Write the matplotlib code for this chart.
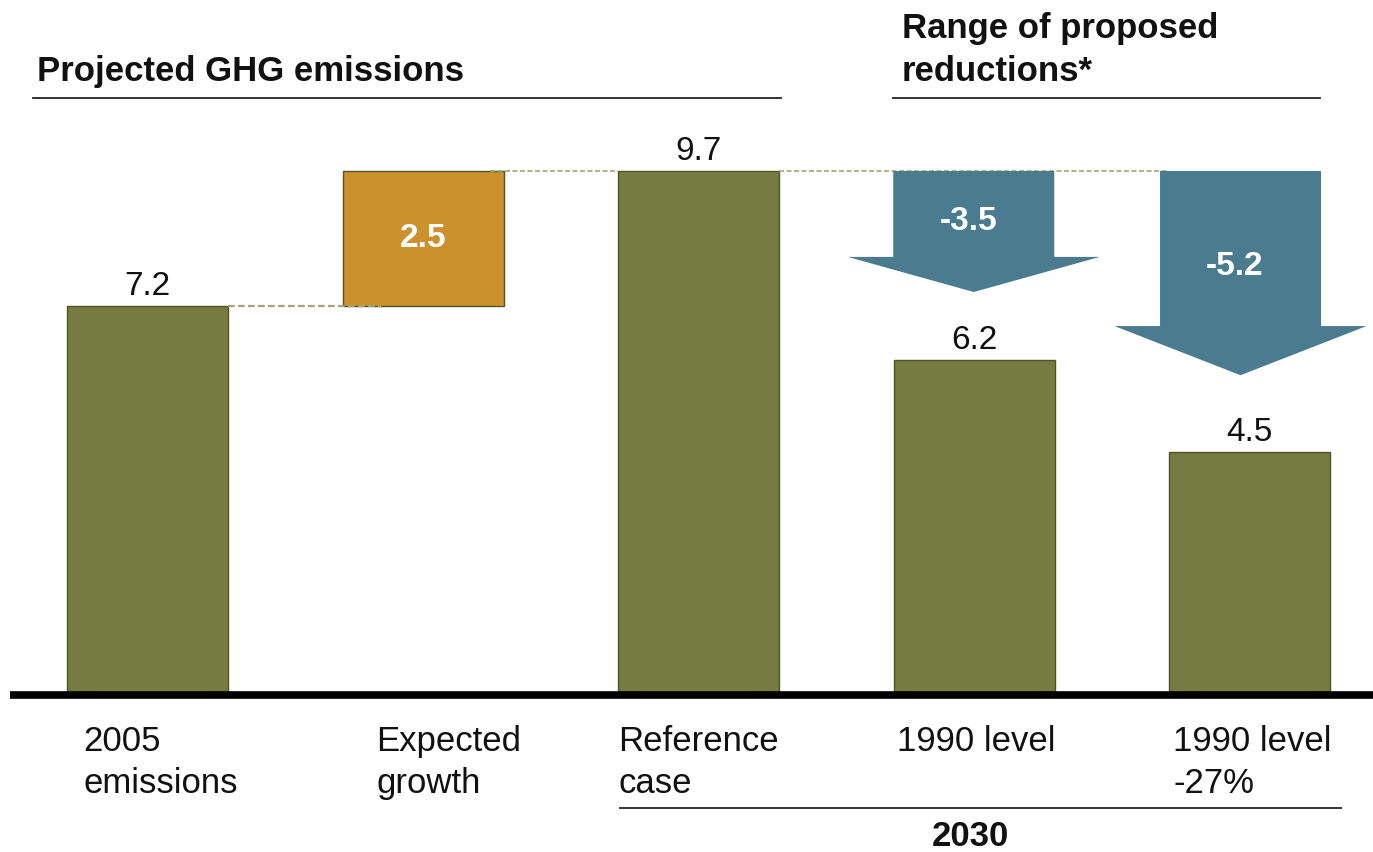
#!/usr/bin/env python3

import matplotlib
matplotlib.use("Agg")
import matplotlib.pyplot as plt
from matplotlib.patches import Polygon

plt.rcParams["font.family"] = ["Liberation Sans", "DejaVu Sans"]

# ------------------------------------------------------------------------
# Data:
# ------------------------------------------------------------------------

categories = ["2005\nemissions", "Expected\ngrowth", "Reference\ncase",
              "1990 level", "1990 level\n-27%"]
start_value = 7.2
growth = 2.5
reference = 9.7
reductions = [-3.5, -5.2]
targets = [6.2, 4.5]

OLIVE = "#767b41"
OLIVE_EDGE = "#4f5524"
ORANGE = "#cc912c"
TEAL = "#4a7b8f"
DASH = "#a3a27a"

# ------------------------------------------------------------------------
# Plot:
# ------------------------------------------------------------------------

W, H = 1373, 852
fig = plt.figure(figsize=(W / 100, H / 100), dpi=100, facecolor="w")
ax = fig.add_axes([0, 0, 1, 1])

# axis scale: 54 px per unit, baseline at 695 px, bar pitch 275.6 px
ppu = 54.02
pitch = 275.6
ax.set_ylim(-(H - 695) / ppu, 695 / ppu)
ax.set_xlim(-147.5 / pitch, (W - 147.5) / pitch)
ax.axis("off")

xs = list(range(len(categories)))
bw = 161 / pitch

ax.bar([xs[0], xs[2], xs[3], xs[4]],
       [start_value, reference] + targets,
       width=bw, color=OLIVE, edgecolor=OLIVE_EDGE, linewidth=1)
ax.bar(xs[1], growth, bottom=start_value, width=bw,
       color=ORANGE, edgecolor=OLIVE_EDGE, linewidth=1)

# value labels
for x, v in zip([xs[0], xs[2], xs[3], xs[4]], [start_value, reference] + targets):
  ax.annotate(f"{v:.1f}", (x, v), xytext=(0, 3), textcoords="offset points",
              ha="center", va="bottom", fontsize=24, color="#111111")
ax.text(xs[1], start_value + growth / 2, f"{growth:.1f}", ha="center",
        va="center", fontsize=24, fontweight="bold", color="white")

# dashed connectors
ax.plot([xs[0] + bw / 2, xs[1] - bw / 2 + 0.14], [start_value] * 2,
        ls=(0, (3, 1.5)), color=DASH, lw=1.6, zorder=1)
ax.plot([xs[1] + bw / 2 - 0.05, xs[2] - bw / 2], [reference] * 2,
        ls=(0, (3, 1.5)), color=DASH, lw=1.2, zorder=1)
ax.plot([xs[2] + bw / 2, xs[4] - bw / 2], [reference] * 2,
        ls=(0, (3, 1.5)), color=DASH, lw=1.2, zorder=1)

# reduction arrows (drawn shorter than scale, as in the original)
arrow_frac = [0.64, 0.727]
head_len = [0.65, 0.91]
arrow_dx = [-0.002, -0.034]
label_pos = [0.42, 0.47]
half_shaft = bw / 2
half_head = 126 / pitch
for i, r in enumerate(reductions):
  cx = xs[3 + i] + arrow_dx[i]
  tip = reference + r * arrow_frac[i]
  neck = tip + head_len[i]
  pts = [(cx - half_shaft, reference), (cx + half_shaft, reference),
         (cx + half_shaft, neck), (cx + half_head, neck), (cx, tip),
         (cx - half_head, neck), (cx - half_shaft, neck)]
  ax.add_patch(Polygon(pts, closed=True, facecolor=TEAL, edgecolor="none",
                       zorder=3))
  ax.text(cx - 0.02, reference - (reference - tip) * label_pos[i], f"{r:.1f}",
          ha="center", va="center", fontsize=24, fontweight="bold",
          color="white", zorder=4)

# baseline
ax.plot([(10 - 147.5) / pitch, ax.get_xlim()[1]], [0, 0],
        color="black", lw=5.5, solid_capstyle="butt", zorder=5)

# category labels
label_dx = [16, 34, 0, 3, 4]
for x, lab, dx in zip(xs, categories, label_dx):
  ax.text(x - bw / 2 + dx / pitch, -30 / ppu, lab, ha="left", va="top",
          fontsize=25, color="#111111", linespacing=1.33)

# headers
def fx(px):
  return px / W

def fy(py):
  return 1 - py / H

fig.text(fx(37), fy(72), "Projected GHG emissions", ha="left", va="center",
         fontsize=25, fontweight="bold", color="#111111")
fig.text(fx(902), fy(50), "Range of proposed\nreductions*", ha="left",
         va="center", fontsize=25, fontweight="bold", color="#111111",
         linespacing=1.4)
fig.add_artist(plt.Line2D([fx(33), fx(781)], [fy(98), fy(98)],
                          color="#222222", lw=1.3))
fig.add_artist(plt.Line2D([fx(893), fx(1320)], [fy(98), fy(98)],
                          color="#222222", lw=1.3))

# 2030 bracket
fig.add_artist(plt.Line2D([fx(620), fx(1341)], [fy(808), fy(808)],
                          color="#222222", lw=1.3))
fig.text(fx(970), fy(836), "2030", ha="center", va="center",
         fontsize=25, fontweight="bold", color="#111111")

fig.savefig("out.png", dpi=100, facecolor="w")
